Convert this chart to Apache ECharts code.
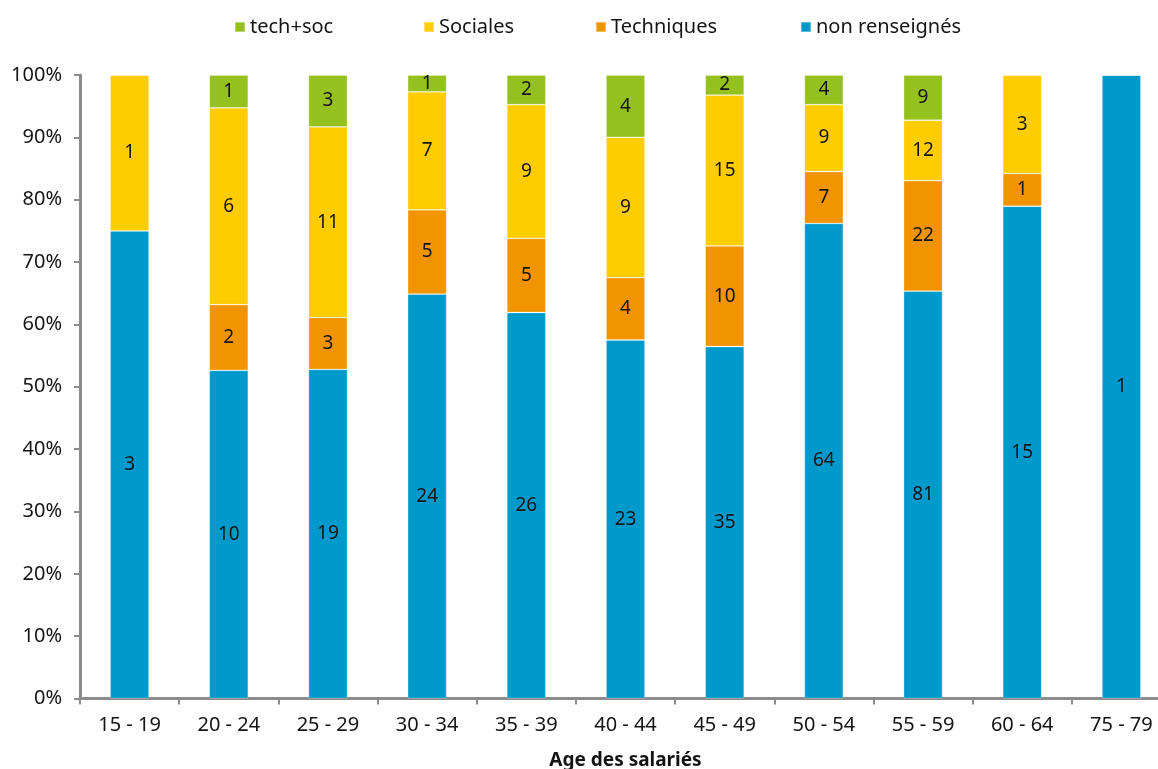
<!DOCTYPE html>
<html>
<head>
<meta charset="utf-8">
<script src="https://cdn.jsdelivr.net/npm/echarts@6/dist/echarts.min.js"></script>
<style>
  html, body { margin: 0; padding: 0; background: #ffffff; }
  #chart { width: 1158px; height: 769px; }
</style>
</head>
<body>
<div id="chart"></div>
<script>
// Age bands of the employees
const categories = ['15 - 19', '20 - 24', '25 - 29', '30 - 34', '35 - 39', '40 - 44', '45 - 49', '50 - 54', '55 - 59', '60 - 64', '75 - 79'];

// Head counts per training type and age band
const nonRenseignes = [3, 10, 19, 24, 26, 23, 35, 64, 81, 15, 1];
const techniques    = [0, 2, 3, 5, 5, 4, 10, 7, 22, 1, 0];
const sociales      = [1, 6, 11, 7, 9, 9, 15, 9, 12, 3, 0];
const techSoc       = [0, 1, 3, 1, 2, 4, 2, 4, 9, 0, 0];

// Legend entries, in display order, with their left offsets
const legendNames = ['tech+soc', 'Sociales', 'Techniques', 'non renseignés'];
const legendLefts = [229, 418, 590, 795];

const FONT = '"Noto Sans", "Open Sans", sans-serif';
const TEXT = '#141414';
const AXIS_GREY = '#8c8c8c';

// Totals per age band, used to turn counts into shares of 100 %
const totals = categories.map((_, i) =>
  nonRenseignes[i] + techniques[i] + sociales[i] + techSoc[i]);

function shares(counts) {
  return counts.map((c, i) => ({ value: totals[i] ? c / totals[i] * 100 : 0, count: c }));
}

function stackSeries(name, counts, color) {
  return {
    name: name,
    type: 'bar',
    stack: 'total',
    barWidth: 39,
    data: shares(counts),
    itemStyle: { color: color, borderColor: 'rgba(255,255,255,0.35)', borderWidth: 0.8 },
    label: {
      show: true,
      position: 'inside',
      color: TEXT,
      fontFamily: FONT,
      fontSize: 19,
      formatter: p => (p.data.count > 0 ? String(p.data.count) : '')
    },
    emphasis: { disabled: true }
  };
}

// One legend block per entry so each sits at its own offset
const legends = legendNames.map((name, i) => ({
  top: 12,
  left: legendLefts[i],
  itemWidth: 10,
  itemHeight: 10,
  icon: 'rect',
  selectedMode: false,
  data: [name],
  textStyle: { fontFamily: FONT, fontSize: 20, color: TEXT }
}));

const chart = echarts.init(document.getElementById('chart'), null, { renderer: 'canvas' });

chart.setOption({
  animation: false,
  backgroundColor: '#ffffff',
  textStyle: { fontFamily: FONT },
  legend: legends,
  grid: { left: 80, right: -13, top: 75, bottom: 70.5, containLabel: false, outerBoundsMode: 'none' },
  xAxis: {
    type: 'category',
    data: categories,
    name: 'Age des salariés',
    nameLocation: 'middle',
    nameGap: 53,
    nameTextStyle: { fontFamily: FONT, fontSize: 19, fontWeight: 'bold', color: TEXT },
    axisLine: { show: true, lineStyle: { color: AXIS_GREY, width: 3 } },
    axisTick: { show: true, alignWithLabel: false, length: 6, lineStyle: { color: AXIS_GREY, width: 2 } },
    axisLabel: { margin: 17, fontFamily: FONT, fontSize: 20, color: TEXT },
    splitLine: { show: false }
  },
  yAxis: {
    type: 'value',
    min: 0,
    max: 100,
    interval: 10,
    axisLine: { show: true, lineStyle: { color: AXIS_GREY, width: 3 } },
    axisTick: { show: true, length: 6, lineStyle: { color: AXIS_GREY, width: 2 } },
    axisLabel: { margin: 18, fontFamily: FONT, fontSize: 20, color: TEXT, formatter: '{value}%' },
    splitLine: { show: false }
  },
  series: [
    stackSeries('non renseignés', nonRenseignes, '#0099cc'),
    stackSeries('Techniques', techniques, '#f29400'),
    stackSeries('Sociales', sociales, '#ffcc00'),
    stackSeries('tech+soc', techSoc, '#95c11f')
  ]
});
</script>
</body>
</html>
